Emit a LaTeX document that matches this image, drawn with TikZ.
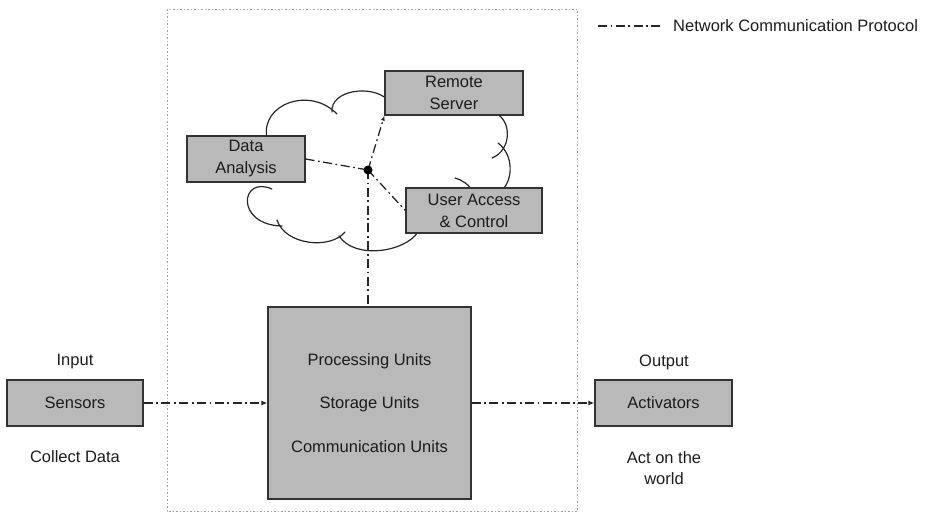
\documentclass[tikz,border=0pt]{standalone}
\usepackage{fontspec}
\setmainfont{Liberation Sans}
\usetikzlibrary{arrows.meta}
\definecolor{boxgray}{RGB}{185,185,185}
\definecolor{txtgray}{RGB}{28,28,28}
\definecolor{framegray}{RGB}{160,160,160}
\tikzset{
  unitbox/.style={draw=black!80, line width=1.3pt, fill=boxgray, rectangle,
    inner sep=0pt, align=center, text=txtgray,
    font=\fontsize{16.5}{22}\selectfont},
  plain/.style={text=txtgray, align=center, inner sep=0pt,
    font=\fontsize{16.5}{21}\selectfont},
  netline/.style={line width=1.3pt, black!85,
    dash pattern=on 9pt off 3.5pt on 1.8pt off 3.5pt},
  tip/.style={-{Latex[length=6pt,width=5pt]}},
  puff/.style={draw=black!85, line width=1.2pt, line cap=round},
}
\begin{document}
\begin{tikzpicture}[x=1pt,y=-1pt]
\useasboundingbox (0,0) rectangle (926,512);

% device boundary
\draw[framegray, line width=1pt, dash pattern=on 1.5pt off 2pt] (167,9) rectangle (577,511);

% legend
\coordinate (lg1) at (598,26);
\coordinate (lg2) at (662,26);
\draw[netline] (lg1) -- (lg2);
\node[plain, anchor=west] (lgtext) at (673,26) {Network Communication Protocol};

% cloud, drawn lobe by lobe with inner hooks
\draw[puff] (267,138) .. controls (260,104) and (310,86) .. (337,114);
\draw[puff] (332,112) .. controls (330,90) and (372,84) .. (388,100);
\draw[puff] (495,113) .. controls (512,120) and (512,150) .. (492,158);
\draw[puff] (498,143) .. controls (514,155) and (513,180) .. (502,190);
\draw[puff] (455,178) .. controls (462,180) and (468,184) .. (471,189);
\draw[puff] (418,232) .. controls (405,252) and (355,260) .. (339,236);
\draw[puff] (277,220) .. controls (285,245) and (330,250) .. (345,232);
\draw[puff] (272,189) .. controls (240,175) and (235,225) .. (282,226);

% cloud services
\node[unitbox, minimum width=138pt, minimum height=44pt] (remote) at (454,93) {Remote\\Server};
\node[unitbox, minimum width=118pt, minimum height=46pt] (data) at (246,159) {Data\\Analysis};
\node[unitbox, minimum width=136pt, minimum height=45pt] (user) at (474,210.5) {User Access\\\& Control};

% hub
\coordinate (hub) at (368,170);

% device
\node[unitbox, minimum width=203pt, minimum height=192pt,
      font=\fontsize{16.5}{43.5}\selectfont] (main) at (369.5,403)
      {Processing Units\\Storage Units\\Communication Units};

% input / output
\node[unitbox, minimum width=136pt, minimum height=46pt] (sensors) at (75,403) {Sensors};
\node[unitbox, minimum width=137pt, minimum height=46pt] (act) at (663.5,403) {Activators};
\node[plain] (inlbl) at (75,362) {Input};
\node[plain] (inlbl2) at (75,457) {Collect Data};
\node[plain] (outlbl) at (664,362) {Output};
\node[plain] (outlbl2) at (664,468) {Act on the\\world};

% network links
\draw[netline] (data.east) -- (hub);
\draw[netline] (hub) -- (user.west);
\draw[netline, -{Latex[length=5pt,width=4pt]}] (hub) -- (remote.south west);
\draw[netline] (hub) -- (hub |- main.north);
\draw[netline, tip] (sensors.east) -- (main.west |- sensors.east);
\draw[netline, tip] (main.east |- act.west) -- (act.west);
\fill[black] (hub) circle (4.5pt);
\end{tikzpicture}
\end{document}
